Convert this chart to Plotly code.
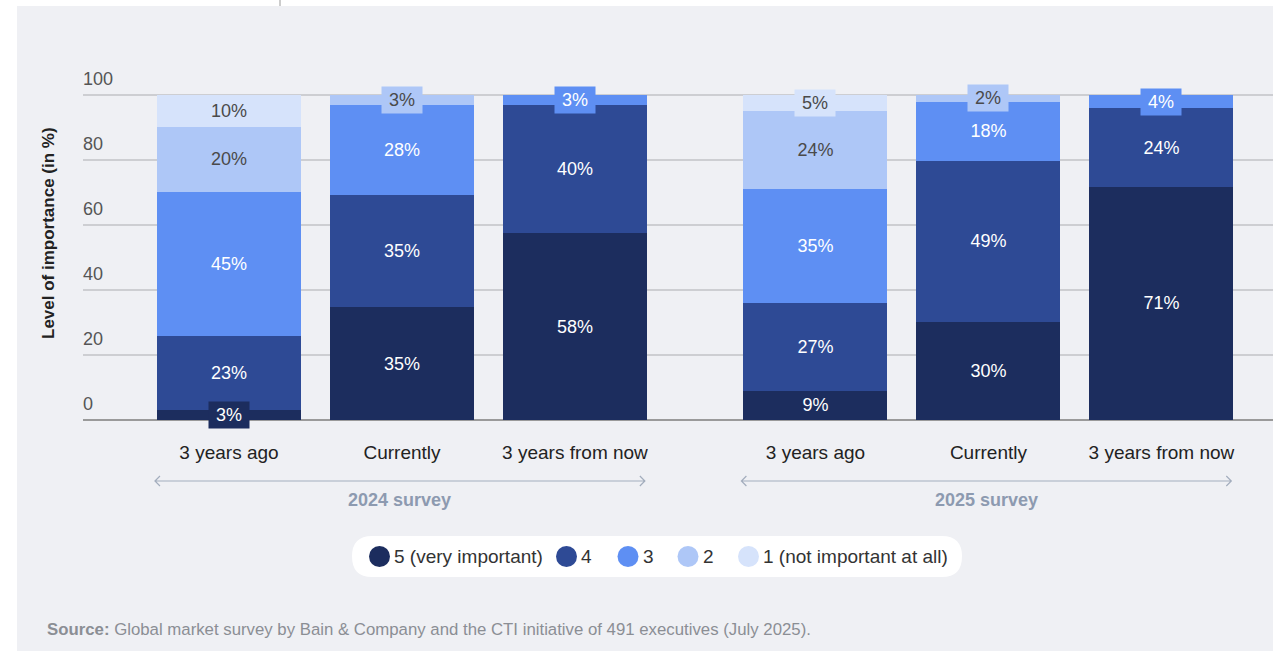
import plotly.graph_objects as go

W, H = 1273, 651

# ---------------- data ----------------
periods = ["3 years ago", "Currently", "3 years from now"]
surveys = ["2024 survey", "2025 survey"]
levels = ["5 (very important)", "4", "3", "2", "1 (not important at all)"]
level_colors = ["#1c2d5e", "#2e4a95", "#5e8ff3", "#aec7f7", "#d6e3fb"]
label_colors = ["#ffffff", "#ffffff", "#ffffff", "#4a4a4a", "#4a4a4a"]

# share of respondents per importance level, bars in order:
# 2024: 3y ago, currently, 3y from now ; 2025: 3y ago, currently, 3y from now
lvl5 = [3, 35, 58, 9, 30, 71]
lvl4 = [23, 35, 40, 27, 49, 24]
lvl3 = [45, 28, 3, 35, 18, 4]
lvl2 = [20, 3, 0, 24, 2, 0]
lvl1 = [10, 0, 0, 5, 0, 0]
series = [lvl5, lvl4, lvl3, lvl2, lvl1]

y_ticks = [0, 20, 40, 60, 80, 100]
y_title = "Level of importance (in %)"
source_bold = "Source:"
source_text = "Global market survey by Bain & Company and the CTI initiative of 491 executives (July 2025)."

# ---------------- layout helpers ----------------
FONT = "Liberation Sans, Arial, sans-serif"
GROUP_STEP = 3.39
BAR_W = 0.832
SMALL = 6


def px(x):
    return x / W


def py(y):
    return 1 - y / H


xpos = [g * GROUP_STEP + i for g in range(len(surveys)) for i in range(len(periods))]
xcats = [p for _ in surveys for p in periods]

fig = go.Figure()
for k, (name, vals) in enumerate(zip(levels, series)):
    fig.add_trace(go.Bar(
        x=xpos, y=vals, name=name, width=BAR_W,
        marker=dict(color=level_colors[k], line=dict(width=0)),
        text=[f"{v}%" if v >= SMALL else "" for v in vals],
        textposition="inside", insidetextanchor="middle", textangle=0,
        textfont=dict(family=FONT, size=18, color=label_colors[k]),
        showlegend=False,
    ))

annotations = []
# small values shown in boxes centred on their segment
for j in range(len(xpos)):
    total = sum(s[j] for s in series)
    base = 0
    for k, s in enumerate(series):
        v = s[j]
        if 0 < v < SMALL:
            annotations.append(dict(
                x=xpos[j], y=(base + v / 2) / total * 100, xref="x", yref="y",
                yanchor="middle", xanchor="center",
                text=f"{v}%", showarrow=False, width=34, height=20, borderpad=3,
                bgcolor=level_colors[k],
                font=dict(family=FONT, size=18, color=label_colors[k]),
            ))
        base += v

shapes = []
# panel background
shapes.append(dict(type="rect", xref="paper", yref="paper", x0=px(17), x1=1, y0=0, y1=py(6),
                   fillcolor="#eff0f4", line=dict(width=0), layer="below"))
shapes.append(dict(type="line", xref="paper", yref="paper", x0=px(280), x1=px(280), y0=py(0), y1=py(6),
                   line=dict(color="#9a9a9a", width=1)))

# survey arrows + labels
ch_dx = 5 / 173
for g, sname in enumerate(surveys):
    xl = xpos[g * 3] - BAR_W / 2 - 0.012
    xr = xpos[g * 3 + 2] + BAR_W / 2 - 0.012
    ya, yu, yd = py(481), py(476), py(486)
    path = (f"M {xl + ch_dx},{yu} L {xl},{ya} L {xl + ch_dx},{yd} "
            f"M {xl},{ya} L {xr},{ya} "
            f"M {xr - ch_dx},{yu} L {xr},{ya} L {xr - ch_dx},{yd}")
    shapes.append(dict(type="path", xref="x", yref="paper", path=path,
                       line=dict(color="#a3adbd", width=1.2)))
    annotations.append(dict(x=(xl + xr) / 2, y=py(500), xref="x", yref="paper", text=f"<b>{sname}</b>",
                            xanchor="center", yanchor="middle",
                            showarrow=False, font=dict(family=FONT, size=18, color="#8d9ab0")))

# legend pill
lx0, lx1, ly0, ly1, r = 352, 962, 536, 577, 20
pill = (f"M {px(lx0 + r)},{py(ly0)} L {px(lx1 - r)},{py(ly0)} "
        f"Q {px(lx1)},{py(ly0)} {px(lx1)},{py((ly0 + ly1) / 2)} "
        f"Q {px(lx1)},{py(ly1)} {px(lx1 - r)},{py(ly1)} "
        f"L {px(lx0 + r)},{py(ly1)} "
        f"Q {px(lx0)},{py(ly1)} {px(lx0)},{py((ly0 + ly1) / 2)} "
        f"Q {px(lx0)},{py(ly0)} {px(lx0 + r)},{py(ly0)} Z")
shapes.append(dict(type="path", xref="paper", yref="paper", path=pill,
                   fillcolor="#ffffff", line=dict(width=0), layer="below"))
legend_cx = [379.5, 566.5, 628, 688, 748.5]
cy, cr = 556.5, 10.5
for k, name in enumerate(levels):
    cx = legend_cx[k]
    shapes.append(dict(type="circle", xref="paper", yref="paper",
                       x0=px(cx - cr), x1=px(cx + cr), y0=py(cy + cr), y1=py(cy - cr),
                       fillcolor=level_colors[k], line=dict(width=0)))
    annotations.append(dict(x=px(cx + cr + 2), y=py(cy), xref="paper", yref="paper", text=name,
                            xanchor="left", yanchor="middle", showarrow=False,
                            font=dict(family=FONT, size=19, color="#333333")))

# y title
annotations.append(dict(x=px(49), y=py(233), xref="paper", yref="paper", text=f"<b>{y_title}</b>",
                        xanchor="center", yanchor="middle",
                        textangle=-90, showarrow=False, font=dict(family=FONT, size=17, color="#222222")))
# source
annotations.append(dict(x=px(45), y=py(629), xref="paper", yref="paper", xanchor="left", yanchor="middle",
                        text=f"<b>{source_bold}</b> {source_text}", showarrow=False,
                        font=dict(family=FONT, size=16.8, color="#8b8e94")))

fig.update_layout(
    width=W, height=H, margin=dict(l=0, r=0, t=0, b=0),
    paper_bgcolor="#ffffff", plot_bgcolor="rgba(0,0,0,0)",
    barmode="stack", barnorm="percent",
    shapes=shapes, annotations=annotations,
    xaxis=dict(domain=[px(83), 1], range=[-0.844, 6.035], tickvals=xpos, ticktext=xcats,
               showgrid=False, zeroline=False, showline=False, ticks="",
               tickfont=dict(family=FONT, size=19, color="#222222"), ticklabelstandoff=19),
    yaxis=dict(domain=[py(420), py(420 - 110 * 3.25)], range=[0, 110], tickvals=y_ticks,
               ticklabelposition="inside top", ticklabelstandoff=-3, ticklabelshift=-4,
               showgrid=True, gridcolor="#cdced2", gridwidth=1.5,
               zeroline=True, zerolinecolor="#9a9a9a", zerolinewidth=1.5, showline=False,
               tickfont=dict(family=FONT, size=18, color="#555555")),
    font=dict(family=FONT),
)

fig.write_html("out.html")
